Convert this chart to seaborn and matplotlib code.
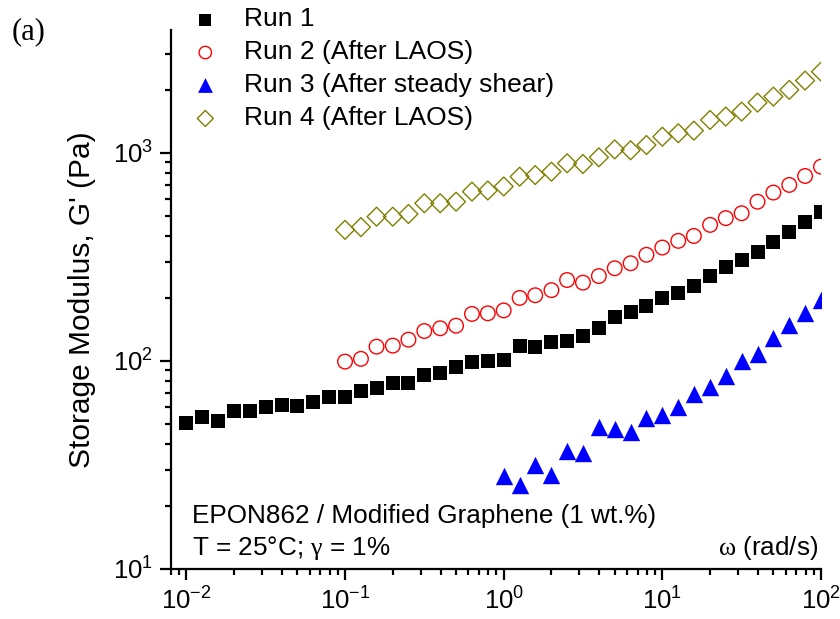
import numpy as np
import pandas as pd
import matplotlib
matplotlib.use("Agg")
import matplotlib.pyplot as plt
import seaborn as sns
from matplotlib.ticker import LogLocator, NullFormatter

# ---- data ----
omega_run1 = [0.01, 0.0126, 0.0158, 0.02, 0.0251, 0.0316, 0.0398, 0.0501, 0.0631, 0.0794,
              0.1, 0.126, 0.158, 0.2, 0.251, 0.316, 0.398, 0.501, 0.631, 0.794,
              1.0, 1.26, 1.58, 2.0, 2.51, 3.16, 3.98, 5.01, 6.31, 7.94,
              10, 12.6, 15.8, 20, 25.1, 31.6, 39.8, 50.1, 63.1, 79.4, 100]
g_run1 = [50.1, 53.6, 51.6, 57.5, 57.5, 59.9, 61.2, 61.0, 63.7, 67.3,
          67.3, 71.8, 74.0, 78.7, 78.7, 85.3, 87.5, 93.3, 98.9, 99.6,
          100.7, 118, 116.4, 124, 124.5, 132, 144, 162, 172.6, 184.5,
          200, 213, 230, 256, 284, 306, 335, 375, 419, 468, 518]

omega_run2 = [0.1, 0.126, 0.158, 0.2, 0.251, 0.316, 0.398, 0.501, 0.631, 0.794,
              1.0, 1.26, 1.58, 2.0, 2.51, 3.16, 3.98, 5.01, 6.31, 7.94,
              10, 12.6, 15.8, 20, 25.1, 31.6, 39.8, 50.1, 63.1, 79.4, 100]
g_run2 = [99.3, 102.4, 117.2, 118.5, 126.6, 139.3, 143.6, 147.8, 168.3, 169.5,
          175, 201, 207, 219, 245, 238, 256, 279, 295, 324,
          351, 378, 399, 451, 486, 513, 583, 645, 702, 775, 859]

omega_run3 = [1.0, 1.26, 1.58, 2.0, 2.51, 3.16, 3.98, 5.01, 6.31, 7.94,
              10, 12.6, 15.8, 20, 25.1, 31.6, 39.8, 50.1, 63.1, 79.4, 100]
g_run3 = [28.0, 25.3, 31.6, 28.3, 37.1, 36.2, 48.3, 47.1, 45.7, 53.2,
          55.0, 60.2, 69.3, 75.2, 84.6, 100.3, 108, 129, 149, 169.5, 196]

omega_run4 = [0.1, 0.126, 0.158, 0.2, 0.251, 0.316, 0.398, 0.501, 0.631, 0.794,
              1.0, 1.26, 1.58, 2.0, 2.51, 3.16, 3.98, 5.01, 6.31, 7.94,
              10, 12.6, 15.8, 20, 25.1, 31.6, 39.8, 50.1, 63.1, 79.4, 100]
g_run4 = [427, 440, 494, 494, 509, 573, 573, 583, 652, 660,
          690, 769, 783, 813, 892, 885, 953, 1040, 1030, 1092,
          1197, 1244, 1280, 1441, 1496, 1581, 1746, 1866, 2010, 2228, 2460]

labels = ["Run 1", "Run 2 (After LAOS)", "Run 3 (After steady shear)", "Run 4 (After LAOS)"]

# ---- style ----
sns.set_style("ticks")
plt.rcParams["font.family"] = ["Liberation Sans", "DejaVu Sans"]
plt.rcParams["mathtext.fontset"] = "custom"
plt.rcParams["mathtext.rm"] = "Liberation Sans"
plt.rcParams["mathtext.it"] = "Liberation Serif"
plt.rcParams["mathtext.bf"] = "Liberation Sans:bold"
for key in ["text.color", "axes.labelcolor", "xtick.color", "ytick.color", "axes.edgecolor"]:
    plt.rcParams[key] = "black"

fig = plt.figure(figsize=(8.4, 6.19), dpi=100)
ax = fig.add_axes([171 / 840, 1 - 569 / 619, 650 / 840, 539 / 619])

series = [
    (omega_run1, g_run1, labels[0], dict(marker="s", s=9.6 ** 2, color="black", edgecolor="black", linewidth=0)),
    (omega_run2, g_run2, labels[1], dict(marker="o", s=10.5 ** 2, facecolor="none", edgecolor="#FF0000", linewidth=1.0)),
    (omega_run3, g_run3, labels[2], dict(marker="^", s=12.5 ** 2, color="#0000FF", edgecolor="#0000FF", linewidth=0)),
    (omega_run4, g_run4, labels[3], dict(marker="D", s=9.6 ** 2, facecolor="none", edgecolor="#808000", linewidth=1.0)),
]

for xs, ys, lab, kw in series:
    df = pd.DataFrame({"omega": xs, "G": ys})
    sns.scatterplot(data=df, x="omega", y="G", ax=ax, label=lab, **kw)

ax.set_xscale("log")
ax.set_yscale("log")
ax.set_xlim(0.008, 100)
ax.set_ylim(10, 3900)

ax.xaxis.set_major_locator(LogLocator(base=10, numticks=10))
ax.xaxis.set_minor_locator(LogLocator(base=10, subs=np.arange(2, 10), numticks=20))
ax.yaxis.set_major_locator(LogLocator(base=10, numticks=10))
ax.yaxis.set_minor_locator(LogLocator(base=10, subs=np.arange(2, 10), numticks=20))
ax.xaxis.set_minor_formatter(NullFormatter())
ax.yaxis.set_minor_formatter(NullFormatter())

for side in ["top", "right"]:
    ax.spines[side].set_visible(False)
for side in ["left", "bottom"]:
    ax.spines[side].set_linewidth(1.6)

ax.tick_params(which="major", direction="out", length=8, width=1.6, labelsize=18.5, pad=5)
ax.tick_params(which="minor", direction="out", length=4, width=1.6)

ax.set_xlabel("")
ax.set_ylabel("Storage Modulus, G' (Pa)", fontsize=21.5, labelpad=12)

# legend
handles, labs = ax.get_legend_handles_labels()
ax.legend(handles, labs, loc="upper left", bbox_to_anchor=(171 / 840, 1 + 11 / 619),
          bbox_transform=fig.transFigure, frameon=False, fontsize=19,
          handlelength=1.2, handletextpad=0.85, labelspacing=0.34, borderpad=0.2,
          markerscale=0.85)

# annotations
ax.text(0.0323, 0.098, "EPON862 / Modified Graphene (1 wt.%)", transform=ax.transAxes,
        fontsize=18.8, va="center", ha="left")
ax.text(0.0323, 0.039, "T = 25°C; $\\gamma$ = 1%", transform=ax.transAxes,
        fontsize=18.8, va="center", ha="left")
ax.text(0.995, 0.039, "$\\omega$ (rad/s)", transform=ax.transAxes,
        fontsize=18.8, va="center", ha="right")

fig.text(12 / 840, 1 - 32 / 619, "(a)", fontsize=22, family=["Liberation Serif"], va="center", ha="left")

fig.savefig("out.png", dpi=100)
